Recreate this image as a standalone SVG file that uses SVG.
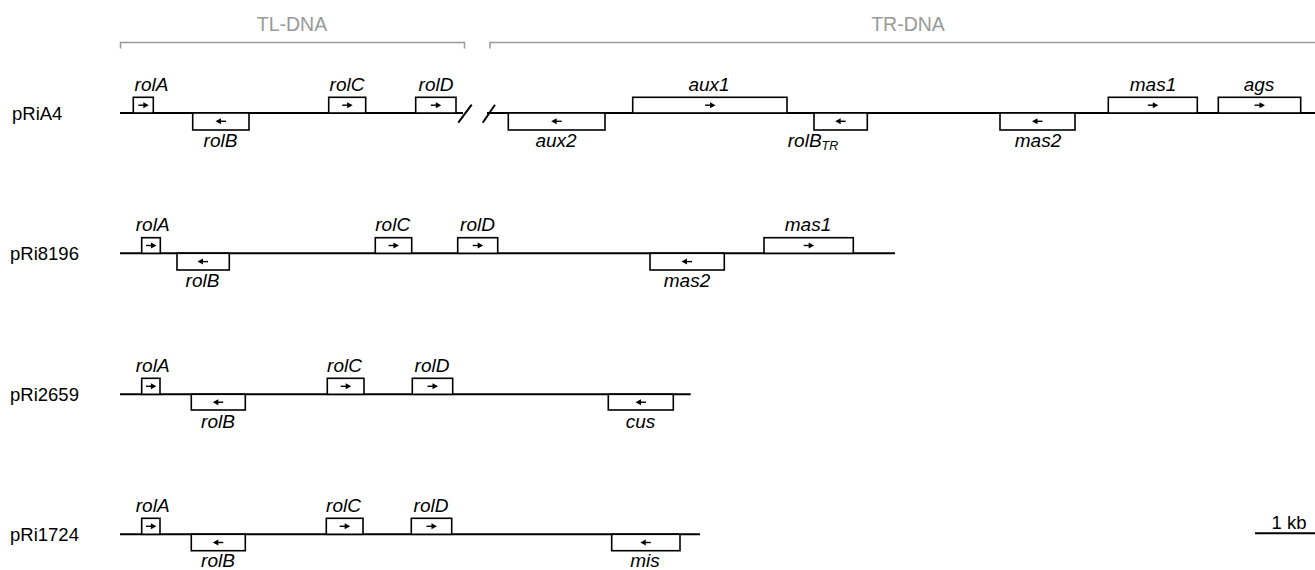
<svg xmlns="http://www.w3.org/2000/svg" xmlns:xlink="http://www.w3.org/1999/xlink" width="1315" height="570" viewBox="0 0 1315 570">
<style>
.bb{stroke:#000;stroke-width:2;fill:none}
.gene{fill:#fff;stroke:#000;stroke-width:1.6}
.lbl{font-family:"Liberation Sans",Arial,sans-serif;font-style:italic;font-size:19px;text-anchor:middle;fill:#000}
.row{font-family:"Liberation Sans",Arial,sans-serif;font-size:18.5px;fill:#000}
.br{stroke:#999;stroke-width:1.5;fill:none}
.brt{font-family:"Liberation Sans",Arial,sans-serif;font-size:19.5px;fill:#999;text-anchor:middle}
</style>
<defs>
<g id="ar"><path d="M-5,0 H1" stroke="#000" stroke-width="1.4"/><path d="M5.5,0 L0,-3 L0,3 Z" fill="#000"/></g>
<g id="al"><use xlink:href="#ar" transform="scale(-1,1)"/></g>
</defs>
<rect width="1315" height="570" fill="#fff"/>
<g id="connectors">
<path class="br" d="M120.5,48.5 V42.5 H464.5 V48.5"/>
<path class="br" d="M490,48.5 V42.5 H1315"/>
<path class="bb" d="M120,113 H463 M487,113 H1315"/>
<path class="bb" d="M458.3,122.7 L471.7,104.7 M482.7,122.7 L495,104.7"/>
<path class="bb" d="M120,253.3 H895"/>
<path class="bb" d="M120,394.3 H690.7"/>
<path class="bb" d="M120,534.3 H700"/>
<path class="bb" d="M1255,533.3 H1315"/>
</g>
<g id="brackets-text">
<text class="brt" x="292" y="31">TL-DNA</text>
<text class="brt" x="908" y="31">TR-DNA</text>
</g>
<g id="row-labels">
<text class="row" x="12" y="120">pRiA4</text>
<text class="row" x="10" y="260">pRi8196</text>
<text class="row" x="10" y="401">pRi2659</text>
<text class="row" x="10" y="541">pRi1724</text>
<text class="row" x="1289" y="529" text-anchor="middle">1 kb</text>
</g>
<!-- pRiA4 -->
<g id="A4-rolA"><rect class="gene" x="133.3" y="97.3" width="20" height="15.7"/><use xlink:href="#ar" x="143.3" y="105.2"/><text class="lbl" x="151.5" y="91">rolA</text></g>
<g id="A4-rolB"><rect class="gene" x="192.7" y="113" width="56.3" height="17"/><use xlink:href="#al" x="221" y="121.3"/><text class="lbl" x="220.5" y="147">rolB</text></g>
<g id="A4-rolC"><rect class="gene" x="328.7" y="97.3" width="37" height="15.7"/><use xlink:href="#ar" x="347.2" y="105.2"/><text class="lbl" x="347" y="91">rolC</text></g>
<g id="A4-rolD"><rect class="gene" x="415.7" y="97.3" width="40.3" height="15.7"/><use xlink:href="#ar" x="435.8" y="105.2"/><text class="lbl" x="436" y="91">rolD</text></g>
<g id="A4-aux2"><rect class="gene" x="508.3" y="113" width="96.7" height="17"/><use xlink:href="#al" x="556.7" y="121.3"/><text class="lbl" x="556" y="147">aux2</text></g>
<g id="A4-aux1"><rect class="gene" x="632.7" y="97.3" width="154.3" height="15.7"/><use xlink:href="#ar" x="710" y="105.2"/><text class="lbl" x="709" y="91">aux1</text></g>
<g id="A4-rolBTR"><rect class="gene" x="814" y="113" width="53.3" height="17"/><use xlink:href="#al" x="840.7" y="121.3"/><text class="lbl" x="813" y="147" text-anchor="start">rolB<tspan font-size="12.5" dy="3">TR</tspan></text></g>
<g id="A4-mas2"><rect class="gene" x="1000" y="113" width="75" height="17"/><use xlink:href="#al" x="1037.5" y="121.3"/><text class="lbl" x="1038" y="147">mas2</text></g>
<g id="A4-mas1"><rect class="gene" x="1108.3" y="97.3" width="89" height="15.7"/><use xlink:href="#ar" x="1152.8" y="105.2"/><text class="lbl" x="1153" y="91">mas1</text></g>
<g id="A4-ags"><rect class="gene" x="1218.3" y="97.3" width="82.4" height="15.7"/><use xlink:href="#ar" x="1259.5" y="105.2"/><text class="lbl" x="1259" y="91">ags</text></g>
<!-- pRi8196 -->
<g id="R8196-rolA"><rect class="gene" x="141.7" y="237.7" width="18.6" height="15.6"/><use xlink:href="#ar" x="151" y="245.5"/><text class="lbl" x="152.7" y="231">rolA</text></g>
<g id="R8196-rolB"><rect class="gene" x="177" y="253.3" width="52.3" height="16.7"/><use xlink:href="#al" x="203" y="261.6"/><text class="lbl" x="202.5" y="287">rolB</text></g>
<g id="R8196-rolC"><rect class="gene" x="375.3" y="237.7" width="36.4" height="15.6"/><use xlink:href="#ar" x="393.5" y="245.5"/><text class="lbl" x="392.7" y="231">rolC</text></g>
<g id="R8196-rolD"><rect class="gene" x="457.7" y="237.7" width="40" height="15.6"/><use xlink:href="#ar" x="477.7" y="245.5"/><text class="lbl" x="477.5" y="231">rolD</text></g>
<g id="R8196-mas2"><rect class="gene" x="650" y="253.3" width="74.3" height="16.7"/><use xlink:href="#al" x="687" y="261.6"/><text class="lbl" x="687" y="287">mas2</text></g>
<g id="R8196-mas1"><rect class="gene" x="764" y="237.7" width="89.3" height="15.6"/><use xlink:href="#ar" x="808.7" y="245.5"/><text class="lbl" x="808" y="231">mas1</text></g>
<!-- pRi2659 -->
<g id="R2659-rolA"><rect class="gene" x="141.7" y="378.3" width="18.3" height="16"/><use xlink:href="#ar" x="150.9" y="386.3"/><text class="lbl" x="152.7" y="371.5">rolA</text></g>
<g id="R2659-rolB"><rect class="gene" x="191.3" y="394.3" width="54" height="15.7"/><use xlink:href="#al" x="218.3" y="402.2"/><text class="lbl" x="218" y="427.5">rolB</text></g>
<g id="R2659-rolC"><rect class="gene" x="327.3" y="378.3" width="36.7" height="16"/><use xlink:href="#ar" x="345.7" y="386.3"/><text class="lbl" x="344.5" y="371.5">rolC</text></g>
<g id="R2659-rolD"><rect class="gene" x="412.3" y="378.3" width="40.4" height="16"/><use xlink:href="#ar" x="432.5" y="386.3"/><text class="lbl" x="432" y="371.5">rolD</text></g>
<g id="R2659-cus"><rect class="gene" x="608.3" y="394.3" width="65" height="15.7"/><use xlink:href="#al" x="641" y="402.2"/><text class="lbl" x="640.5" y="427.5">cus</text></g>
<!-- pRi1724 -->
<g id="R1724-rolA"><rect class="gene" x="141.7" y="518.3" width="18.3" height="16"/><use xlink:href="#ar" x="150.9" y="526.3"/><text class="lbl" x="152.7" y="511.5">rolA</text></g>
<g id="R1724-rolB"><rect class="gene" x="191.3" y="534.3" width="54" height="16.4"/><use xlink:href="#al" x="218.3" y="542.5"/><text class="lbl" x="218" y="567">rolB</text></g>
<g id="R1724-rolC"><rect class="gene" x="326.3" y="518.3" width="36.7" height="16"/><use xlink:href="#ar" x="344.7" y="526.3"/><text class="lbl" x="343.5" y="511.5">rolC</text></g>
<g id="R1724-rolD"><rect class="gene" x="411.3" y="518.3" width="40.4" height="16"/><use xlink:href="#ar" x="431.5" y="526.3"/><text class="lbl" x="431" y="511.5">rolD</text></g>
<g id="R1724-mis"><rect class="gene" x="611.7" y="534.3" width="68.3" height="16.4"/><use xlink:href="#al" x="645.8" y="542.5"/><text class="lbl" x="645" y="567">mis</text></g>
</svg>
